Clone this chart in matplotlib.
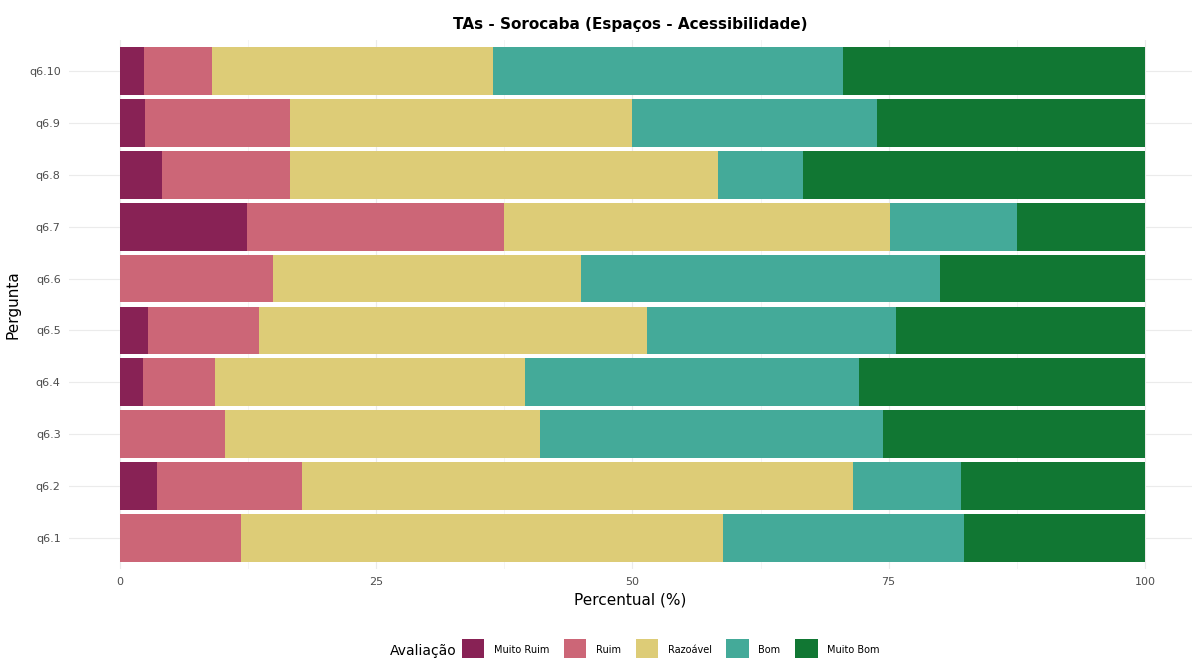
import matplotlib.pyplot as plt
import numpy as np

#### data
perguntas = ["q6.1", "q6.2", "q6.3", "q6.4", "q6.5", "q6.6", "q6.7", "q6.8", "q6.9", "q6.10"]
categorias = ["Muito Ruim", "Ruim", "Razoável", "Bom", "Muito Bom"]
cores = ["#882255", "#CC6677", "#DDCC77", "#44AA99", "#117733"]

muito_ruim = [0.0, 3.6, 0.0, 2.2, 2.7, 0.0, 12.4, 4.1, 2.4, 2.3]
ruim = [11.8, 14.2, 10.2, 7.1, 10.9, 14.9, 25.1, 12.5, 14.2, 6.7]
razoavel = [47.0, 53.7, 30.8, 30.2, 37.8, 30.1, 37.6, 41.7, 33.4, 27.4]
bom = [23.6, 10.6, 33.4, 32.6, 24.3, 35.0, 12.4, 8.3, 23.9, 34.1]
muito_bom = [17.6, 17.9, 25.6, 27.9, 24.3, 20.0, 12.5, 33.4, 26.1, 29.5]

####
fig = plt.figure(figsize=(11.92, 6.58), dpi=100)
ax = fig.add_axes([69 / 1192, 1 - 569 / 658, 1 - 69 / 1192, (569 - 40) / 658])

ypos = np.arange(len(perguntas))
left = np.zeros(len(perguntas))
for nome, cor, vals in zip(categorias, cores, [muito_ruim, ruim, razoavel, bom, muito_bom]):
    ax.barh(ypos, vals, left=left, height=0.92, color=cor, label=nome, zorder=2)
    left += np.array(vals)

ax.set_xlim(-4.98, 104.6)
ax.set_ylim(-0.6, len(perguntas) - 0.4)
ax.set_yticks(ypos)
ax.set_yticklabels(perguntas)
ax.set_xticks([0, 25, 50, 75, 100])
ax.set_xticks([12.5, 37.5, 62.5, 87.5], minor=True)
ax.grid(True, which="major", color="#ebebeb", linewidth=0.8, zorder=0)
ax.grid(True, which="minor", axis="x", color="#f2f2f2", linewidth=0.6, zorder=0)
for s in ax.spines.values():
    s.set_visible(False)
ax.tick_params(length=0, which="both", labelsize=8, labelcolor="#4d4d4d", pad=6)

ax.set_xlabel("Percentual (%)", fontsize=11, labelpad=4)
ax.set_ylabel("Pergunta", fontsize=11, labelpad=6)
ax.set_title("TAs - Sorocaba (Espaços - Acessibilidade)", fontsize=11, fontweight="bold", pad=8)

# legend at the bottom, title to the left of the keys
fig.text(390 / 1192, 1 - 651 / 658, "Avaliação", fontsize=10, va="center", ha="left")
fig.legend(loc="center left", bbox_to_anchor=(462 / 1192, 1 - 650 / 658), ncol=5, frameon=False,
           fontsize=7, handlelength=2.3, handleheight=3.0, columnspacing=1.5,
           handletextpad=1.0, borderaxespad=0, borderpad=0)

fig.savefig("out.png", dpi=100)
